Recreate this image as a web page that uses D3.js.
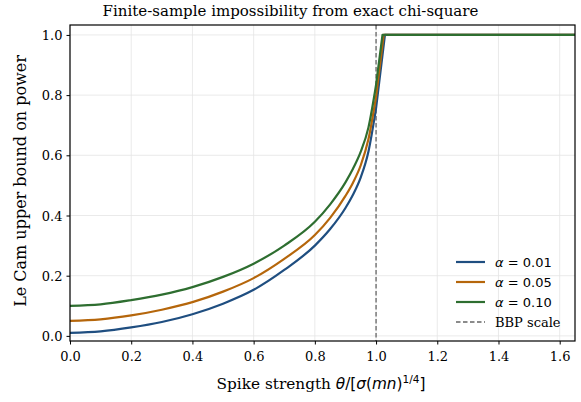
<!DOCTYPE html>
<html>
<head>
<meta charset="utf-8">
<script src="https://cdn.jsdelivr.net/npm/d3@7"></script>
<style>
  body { margin: 0; background: #fff; }
  text { font-family: "DejaVu Serif", serif; fill: #000; }
  .math { font-family: "DejaVu Sans", sans-serif; }
</style>
</head>
<body>
<svg width="581" height="402"></svg>
<script>
var width = 581, height = 402;
var margin = {left: 70, right: 6, top: 25, bottom: 61};

// theta grid (smooth part, up to the BBP scale)
var theta = [0.0, 0.1, 0.2, 0.3, 0.4, 0.5, 0.6, 0.7, 0.8, 0.85, 0.9, 0.925, 0.95, 0.975, 1.0];
var alphaLabels = ["0.01", "0.05", "0.10"];
var powerA01 = [0.010, 0.015, 0.028, 0.046, 0.072, 0.107, 0.153, 0.219, 0.300, 0.355, 0.425, 0.470, 0.527, 0.612, 0.757];
var powerA05 = [0.050, 0.055, 0.068, 0.087, 0.112, 0.147, 0.192, 0.256, 0.335, 0.392, 0.465, 0.510, 0.567, 0.653, 0.795];
var powerA10 = [0.100, 0.105, 0.119, 0.137, 0.162, 0.196, 0.240, 0.300, 0.379, 0.437, 0.510, 0.556, 0.612, 0.692, 0.834];
// where each bound hits 1 and stays there
var capTheta = [1.029, 1.025, 1.021];
var xMax = 1.65;
var colors = ["#1f4e80", "#b5660b", "#2e6e30"];
var xTicks = [0.0, 0.2, 0.4, 0.6, 0.8, 1.0, 1.2, 1.4, 1.6];
var yTicks = [0.0, 0.2, 0.4, 0.6, 0.8, 1.0];

var svg = d3.select("svg");

var x = d3.scaleLinear().domain([0, xMax]).range([margin.left, width - margin.right]);
var y = d3.scaleLinear().domain([-0.017, 1.033]).range([height - margin.bottom, margin.top]);

// grid
svg.append("g").selectAll("line").data(xTicks).enter().append("line")
    .attr("x1", d => x(d)).attr("x2", d => x(d))
    .attr("y1", margin.top).attr("y2", height - margin.bottom)
    .attr("stroke", "#e5e5e5").attr("stroke-width", 0.8);
svg.append("g").selectAll("line").data(yTicks).enter().append("line")
    .attr("x1", margin.left).attr("x2", width - margin.right)
    .attr("y1", d => y(d)).attr("y2", d => y(d))
    .attr("stroke", "#e5e5e5").attr("stroke-width", 0.8);

// BBP scale reference
svg.append("line")
    .attr("x1", x(1)).attr("x2", x(1))
    .attr("y1", margin.top).attr("y2", height - margin.bottom)
    .attr("stroke", "#666").attr("stroke-width", 1.3)
    .attr("stroke-dasharray", "4.5,2.5");

var smooth = d3.line().x(d => x(d[0])).y(d => y(d[1])).curve(d3.curveMonotoneX);
var straight = d3.line().x(d => x(d[0])).y(d => y(d[1]));

[powerA01, powerA05, powerA10].forEach(function(vals, i) {
    var lower = theta.map((t, j) => [t, vals[j]]);
    var upper = [[1.0, vals[vals.length - 1]], [capTheta[i], 1.0], [xMax, 1.0]];
    svg.append("path")
        .attr("d", smooth(lower) + straight(upper).replace(/^M/, "L"))
        .attr("fill", "none")
        .attr("stroke", colors[i])
        .attr("stroke-width", 2.2)
        .attr("stroke-linejoin", "round");
});

// spines
svg.append("rect")
    .attr("x", margin.left).attr("y", margin.top)
    .attr("width", width - margin.left - margin.right)
    .attr("height", height - margin.top - margin.bottom)
    .attr("fill", "none").attr("stroke", "#000").attr("stroke-width", 1.2);

// axes
var xAxis = svg.append("g")
    .attr("transform", `translate(0,${height - margin.bottom})`)
    .call(d3.axisBottom(x).tickValues(xTicks).tickFormat(d3.format(".1f")).tickSizeOuter(0).tickSize(3.5).tickPadding(4));
var yAxis = svg.append("g")
    .attr("transform", `translate(${margin.left},0)`)
    .call(d3.axisLeft(y).tickValues(yTicks).tickFormat(d3.format(".1f")).tickSizeOuter(0).tickSize(3.5).tickPadding(4));
[xAxis, yAxis].forEach(function(a) {
    a.attr("font-family", "DejaVu Serif").attr("font-size", 13);
    a.select(".domain").remove();
    a.selectAll(".tick line").attr("stroke", "#000").attr("stroke-width", 1);
    a.selectAll(".tick text").attr("fill", "#000").style("font-family", "'DejaVu Serif', serif");
});
xAxis.selectAll(".tick text").attr("dy", "0.95em");
yAxis.selectAll(".tick text").attr("dy", "0.35em");

// title (figure-level, centred on the page)
svg.append("text")
    .attr("x", width / 2).attr("y", 16)
    .attr("text-anchor", "middle").style("font-size", "15px")
    .text("Finite-sample impossibility from exact chi-square");

// x label
var xl = svg.append("text")
    .attr("x", 321).attr("y", 389)
    .attr("text-anchor", "middle").style("font-size", "15.3px");
xl.append("tspan").text("Spike strength ");
xl.append("tspan").attr("class", "math").attr("font-style", "italic").text("θ");
xl.append("tspan").attr("class", "math").text("/[");
xl.append("tspan").attr("class", "math").attr("font-style", "italic").text("σ");
xl.append("tspan").attr("class", "math").text("(");
xl.append("tspan").attr("class", "math").attr("font-style", "italic").text("mn");
xl.append("tspan").attr("class", "math").text(")");
xl.append("tspan").attr("class", "math").attr("dy", -6).style("font-size", "10.5px").text("1/4");
xl.append("tspan").attr("class", "math").attr("dy", 6).text("]");

// y label
svg.append("text")
    .attr("transform", `translate(26,${(margin.top + height - margin.bottom) / 2 - 2}) rotate(-90)`)
    .attr("text-anchor", "middle").style("font-size", "16px")
    .text("Le Cam upper bound on power");

// legend
var legend = svg.append("g").attr("transform", "translate(456,262)");
alphaLabels.forEach(function(a, i) {
    var g = legend.append("g").attr("transform", `translate(0,${i * 20})`);
    g.append("line").attr("x1", 0).attr("x2", 29).attr("stroke", colors[i]).attr("stroke-width", 2.2);
    var t = g.append("text").attr("x", 39).attr("dy", "0.35em").style("font-size", "13px");
    t.append("tspan").attr("class", "math").attr("font-style", "italic").text("α");
    t.append("tspan").attr("class", "math").text(" = " + a);
});
var gb = legend.append("g").attr("transform", "translate(0,60)");
gb.append("line").attr("x1", 0).attr("x2", 29).attr("stroke", "#666").attr("stroke-width", 1.3).attr("stroke-dasharray", "4.5,2.5");
gb.append("text").attr("x", 39).attr("dy", "0.35em").style("font-size", "13px").text("BBP scale");
</script>
</body>
</html>
